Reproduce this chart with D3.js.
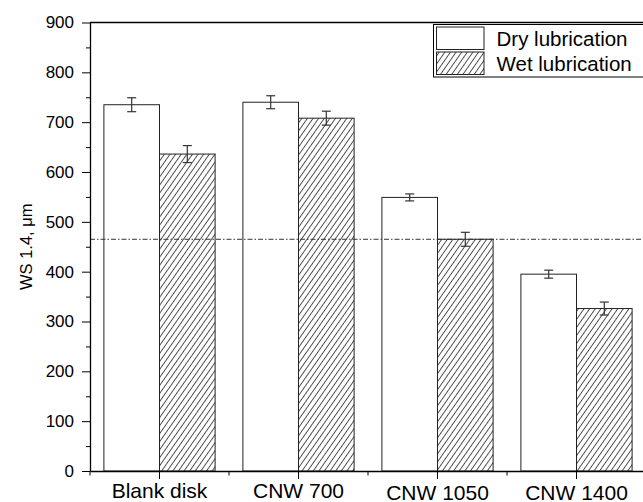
<!DOCTYPE html>
<html>
<head>
<meta charset="utf-8">
<script src="https://cdn.jsdelivr.net/npm/d3@7"></script>
<style>
  body { margin: 0; background: #fff; }
  svg { display: block; font-family: "Liberation Sans", Arial, sans-serif; }
</style>
</head>
<body>
<svg width="643" height="502"></svg>
<script>
// data
const categories = ['Blank disk', 'CNW 700', 'CNW 1050', 'CNW 1400'];
const series = ['Dry lubrication', 'Wet lubrication'];
const dryValues = [735, 740, 549, 395];
const dryErrors = [14, 13, 7, 8];
const wetValues = [636, 708, 465, 326];
const wetErrors = [17, 14, 14, 13];
const refLine = 465;
const yTicks = [0, 100, 200, 300, 400, 500, 600, 700, 800, 900];

const svg = d3.select('svg');
const plotLeft = 90, plotRight = 646, plotTop = 22.5, plotBottom = 471;

// pattern for the wet bars
svg.append('defs').append('pattern')
  .attr('id', 'hatch')
  .attr('patternUnits', 'userSpaceOnUse')
  .attr('width', 4.6).attr('height', 10)
  .attr('patternTransform', 'rotate(35)')
  .append('line')
  .attr('x1', 2.3).attr('y1', 0).attr('x2', 2.3).attr('y2', 10)
  .attr('stroke', '#222').attr('stroke-width', 0.8);

const x = d3.scaleBand()
  .domain(categories)
  .range([plotLeft, plotRight])
  .paddingInner(0.2)
  .paddingOuter(0.1);

const xSub = d3.scaleBand()
  .domain(series)
  .range([0, x.bandwidth()]);

const y = d3.scaleLinear().domain([0, 900]).range([plotBottom, plotTop]);

const rows = categories.map((c, i) => [
  { cat: c, s: series[0], v: dryValues[i], e: dryErrors[i] },
  { cat: c, s: series[1], v: wetValues[i], e: wetErrors[i] }
]).flat();

// bars
svg.append('g').selectAll('rect')
  .data(rows)
  .join('rect')
  .attr('x', d => x(d.cat) + xSub(d.s))
  .attr('y', d => y(d.v))
  .attr('width', xSub.bandwidth())
  .attr('height', d => y(0) - y(d.v))
  .attr('fill', d => d.s === series[0] ? '#fff' : 'url(#hatch)')
  .attr('stroke', '#222')
  .attr('stroke-width', 1);

// error bars
const err = svg.append('g').attr('stroke', '#333').attr('stroke-width', 1.2);
const cx = d => x(d.cat) + xSub(d.s) + xSub.bandwidth() / 2;
err.selectAll('.stem').data(rows).join('line').attr('class', 'stem')
  .attr('x1', cx).attr('x2', cx)
  .attr('y1', d => y(d.v + d.e)).attr('y2', d => y(d.v - d.e));
err.selectAll('.capTop').data(rows).join('line').attr('class', 'capTop')
  .attr('x1', d => cx(d) - 4.5).attr('x2', d => cx(d) + 4.5)
  .attr('y1', d => y(d.v + d.e)).attr('y2', d => y(d.v + d.e));
err.selectAll('.capBot').data(rows).join('line').attr('class', 'capBot')
  .attr('x1', d => cx(d) - 4.5).attr('x2', d => cx(d) + 4.5)
  .attr('y1', d => y(d.v - d.e)).attr('y2', d => y(d.v - d.e));

// dash-dot reference line
svg.append('line')
  .attr('x1', plotLeft).attr('x2', plotRight)
  .attr('y1', y(refLine)).attr('y2', y(refLine))
  .attr('stroke', '#333').attr('stroke-width', 1)
  .attr('stroke-dasharray', '5,2,1.5,2');

// frame top
svg.append('line')
  .attr('x1', plotLeft).attr('x2', plotRight)
  .attr('y1', plotTop).attr('y2', plotTop)
  .attr('stroke', '#000').attr('stroke-width', 1.3);

// y axis
const yAxis = svg.append('g')
  .attr('transform', `translate(${plotLeft},0)`)
  .call(d3.axisLeft(y).tickValues(yTicks).tickSize(8).tickSizeOuter(0).tickPadding(8));
yAxis.attr('font-family', null);
yAxis.select('.domain').attr('stroke-width', 1.3);
yAxis.selectAll('text').attr('font-size', 17).attr('fill', '#000');

svg.append('g')
  .attr('transform', `translate(${plotLeft},0)`)
  .call(d3.axisLeft(y).tickValues(yTicks.slice(0, -1).map(t => t + 50)).tickSize(4).tickFormat(''))
  .call(g => g.select('.domain').remove());

// x axis
const xAxis = svg.append('g')
  .attr('transform', `translate(0,${plotBottom})`)
  .call(d3.axisBottom(x).tickSize(8).tickSizeOuter(0).tickPadding(4));
xAxis.attr('font-family', null);
xAxis.select('.domain').attr('stroke-width', 1.3);
xAxis.selectAll('text')
  .attr('font-size', 21).attr('fill', '#000')
  .attr('transform', (d, i) => i >= 2 ? 'translate(0,2)' : null);

const bounds = categories.map(c => x(c) - (x.step() - x.bandwidth()) / 2)
  .concat([plotRight]);
svg.append('g').selectAll('line')
  .data(bounds)
  .join('line')
  .attr('x1', d => d).attr('x2', d => d)
  .attr('y1', plotBottom).attr('y2', plotBottom + 4.5)
  .attr('stroke', '#000').attr('stroke-width', 1);

// y title
svg.append('text')
  .attr('transform', `translate(32,${(plotTop + plotBottom) / 2}) rotate(-90)`)
  .attr('text-anchor', 'middle')
  .attr('font-size', 16.5)
  .text('WS 1.4, \u03bcm');

// legend
const legend = svg.append('g');
legend.append('rect')
  .attr('x', 433.5).attr('y', 24.5)
  .attr('width', 230).attr('height', 52.5)
  .attr('fill', '#fff').attr('stroke', '#000').attr('stroke-width', 1);
const items = legend.selectAll('g.item')
  .data(series)
  .join('g')
  .attr('class', 'item')
  .attr('transform', (d, i) => `translate(436.5,${27 + i * 25})`);
items.append('rect')
  .attr('width', 47.5).attr('height', 22.5)
  .attr('fill', (d, i) => i === 0 ? '#fff' : 'url(#hatch)')
  .attr('stroke', '#222').attr('stroke-width', 1);
items.append('text')
  .attr('x', 60).attr('y', 18.5)
  .attr('font-size', 20.5)
  .text(d => d);
</script>
</body>
</html>
